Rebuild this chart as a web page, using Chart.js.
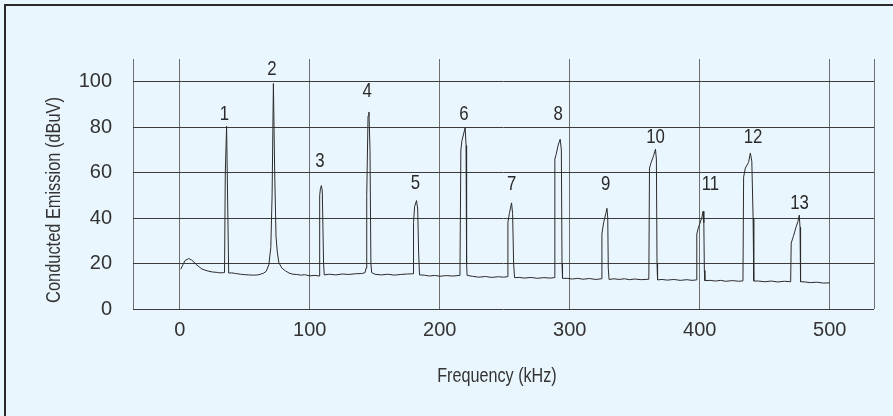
<!DOCTYPE html>
<html>
<head>
<meta charset="utf-8">
<script src="https://cdn.jsdelivr.net/npm/chart.js@4.4.1/dist/chart.umd.min.js"></script>
<style>
  html, body { margin: 0; padding: 0; background: #eaf6fd; }
  #wrap { position: relative; width: 893px; height: 416px; overflow: hidden; }
  #frame { position: absolute; left: 4px; top: 4px; right: -10px; bottom: -10px; border-left: 2px solid #2a2a2a; border-top: 2px solid #2a2a2a; }
  canvas { position: absolute; left: 0; top: 0; }
</style>
</head>
<body>
<div id="wrap">
  <div id="frame"></div>
  <canvas id="emissionChart" width="893" height="416"></canvas>
</div>
<script>
// spectrum trace (kHz, dBuV)
const traceFreq = [
  0.8, 2, 4, 6.8, 9, 10.8, 12.5, 14.6, 17, 21, 25, 28.8, 31, 33.4,
  34.4, 35.0, 36.0, 37.0, 37.6,
  40, 43, 46.7, 50, 53, 56.9, 60, 62.1, 64.5, 66.5, 68.5, 70, 71, 72, 73, 74, 75, 76.2, 78.5, 81.3, 84, 87,
  90, 93, 96, 100, 104, 107.2,
  107.6, 108.2, 108.9, 109.6, 110.6, 111.1,
  115, 120, 125, 130, 135, 140, 142.5,
  143.3, 143.8, 144.8, 145.5, 146.3, 147, 147.6,
  150, 155, 160, 165, 170, 175, 179.5,
  179.8, 180.6, 182.1, 183, 183.7, 184.4,
  188, 192, 196, 200, 205, 210, 215.5,
  216.2, 217, 218.3, 219.5, 220.2, 220.6, 221,
  225, 230, 235, 240, 245, 249, 252,
  252.4, 253.5, 255.2, 256, 256.8, 257.5,
  261, 265, 270, 275, 280, 285, 288,
  288.5, 289.5, 291, 292.6, 293.5, 294, 294.4,
  298, 302, 306, 310, 315, 320, 324.2,
  324.7, 326, 327.7, 328.6, 329.2, 329.6, 330.2,
  334, 338, 342, 346, 350, 355, 360.8,
  361.3, 362.3, 364.5, 365.9, 366.6, 367.1, 367.5,
  371, 375, 380, 385, 390, 394, 397.3,
  397.7, 399, 401.5, 402.5, 403.1, 403.5, 403.9,
  408, 412, 416, 420, 425, 430, 433.2,
  433.7, 435, 437.5, 438.9, 440, 441, 441.5,
  445, 450, 455, 460, 465, 469.9,
  470.3, 472, 474, 475.5, 476.5, 477.1, 477.5,
  481, 485, 490, 495, 500
];
const traceLevel = [
  17.5, 19, 21.3, 22.2, 21.6, 20.7, 19.6, 18.7, 17.6, 16.8, 16.3, 16.1, 15.9, 16.0,
  16, 60, 80.4, 40, 15.8,
  15.9, 15.6, 15.3, 15.1, 15.0, 14.9, 15.0, 15.3, 15.8, 16.6, 19.5, 27, 50, 99.2, 60, 32, 25, 20.4, 18, 16.8, 15.8, 15.3,
  15.2, 14.9, 15.1, 14.6, 14.8, 14.5,
  50, 53, 54.3, 52, 20, 15,
  15.3, 15.0, 15.4, 15.2, 15.5, 15.6, 16,
  18, 50, 85, 86.7, 70, 20, 16,
  15.3, 15.0, 15.3, 14.9, 15.2, 15.4, 15.5,
  38, 45, 47.7, 44, 25, 15,
  14.9, 14.5, 14.8, 14.4, 14.7, 14.5, 14.8,
  70, 74, 77, 79.8, 72, 20, 14.8,
  14.4, 14.0, 14.3, 13.9, 14.2, 14.0, 14.2,
  38, 42, 46.7, 42, 20, 13.8,
  13.9, 13.6, 13.9, 13.5, 13.8, 13.6, 13.8,
  66, 68, 72, 74.7, 70, 20, 13.5,
  13.5, 13.2, 13.5, 13.1, 13.4, 13.0, 13.3,
  33, 38, 42, 44.3, 40, 18, 13.0,
  13.3, 13.0, 13.3, 12.9, 13.2, 12.9, 13.1,
  62, 64, 67.5, 70.3, 66, 20, 12.8,
  13.0, 12.7, 13.0, 12.6, 12.9, 12.6, 12.8,
  33, 36, 40, 43, 38, 17, 12.5,
  12.6, 12.3, 12.6, 12.2, 12.5, 12.2, 12.4,
  58, 62, 64.5, 68.6, 65, 40, 12.3,
  12.3, 12.0, 12.3, 11.9, 12.2, 12.0,
  29, 32, 36, 38.5, 41.3, 36, 12.0,
  11.9, 11.6, 11.8, 11.4, 11.5
];

// harmonic numbers and where their labels sit
const peakNames = ['1', '2', '3', '4', '5', '6', '7', '8', '9', '10', '11', '12', '13'];
const peakLabelFreq = [34.4, 70.8, 107.7, 144.2, 181.3, 218.5, 255.2, 291.0, 327.5, 366.0, 408.2, 441.0, 476.7];
const peakLabelLevel = [85.8, 105.5, 65.2, 95.8, 55.4, 85.8, 54.7, 85.8, 54.7, 75.6, 54.7, 75.6, 46.4];

const xMin = -36, xMax = 534;
const xTicks = [0, 100, 200, 300, 400, 500];
const yMin = 0, yMax = 110, yStep = 10;
const yLabelStep = 20;

const xTitle = 'Frequency (kHz)';
const yTitle = 'Conducted Emission (dBuV)';

const FONT = '"Liberation Sans", Arial, sans-serif';
Chart.defaults.font.family = FONT;
Chart.defaults.color = '#333';

// the original uses a condensed face; squeeze the drawn text horizontally
function narrowText(ctx, text, x, y, squeeze) {
    ctx.save();
    ctx.translate(x, y);
    ctx.scale(squeeze, 1);
    ctx.fillText(text, 0, 0);
    ctx.restore();
}

const annotate = {
    id: 'annotate',
    afterDatasetsDraw(chart) {
        const { ctx, scales: { x, y } } = chart;
        ctx.save();
        ctx.fillStyle = '#2a2a2a';
        ctx.textAlign = 'center';
        ctx.textBaseline = 'middle';
        ctx.font = `21px ${FONT}`;
        peakNames.forEach((name, i) => {
            narrowText(ctx, name, x.getPixelForValue(peakLabelFreq[i]), y.getPixelForValue(peakLabelLevel[i]), 0.8);
        });
        ctx.fillStyle = '#333';
        narrowText(ctx, xTitle, 497, 376, 0.77);
        ctx.translate(54, 200);
        ctx.rotate(-Math.PI / 2);
        narrowText(ctx, yTitle, 0, 0, 0.78);
        ctx.restore();
    }
};

const ctx = document.getElementById('emissionChart').getContext('2d');
new Chart(ctx, {
    type: 'line',
    data: {
        datasets: [{
            data: traceFreq.map((f, i) => ({ x: f, y: traceLevel[i] })),
            borderColor: '#2b2b2b',
            borderWidth: 1,
            pointRadius: 0,
            tension: 0,
            fill: false
        }]
    },
    options: {
        responsive: false,
        animation: false,
        events: [],
        layout: { padding: { left: 42, top: 59, right: 19, bottom: 28 } },
        plugins: { legend: { display: false }, tooltip: { enabled: false } },
        scales: {
            x: {
                type: 'linear',
                min: xMin, max: xMax,
                afterBuildTicks: (scale) => {
                    scale.ticks = [xMin, ...xTicks, xMax].map(v => ({ value: v }));
                },
                afterFit: (scale) => { scale.height = 79; },
                ticks: {
                    autoSkip: false, maxRotation: 0, padding: 9,
                    font: { size: 20 }, color: '#333',
                    callback: (v) => xTicks.includes(v) ? String(v) : ''
                },
                grid: { color: '#6e6e6e', lineWidth: 1, drawTicks: false },
                border: { display: false }
            },
            y: {
                min: yMin, max: yMax,
                afterFit: (scale) => { scale.width = 91; },
                ticks: {
                    stepSize: yStep, padding: 21,
                    font: { size: 20 }, color: '#333',
                    callback: (v) => (v % yLabelStep === 0 && v < yMax) ? String(v) : ''
                },
                grid: { color: '#3c3c3c', lineWidth: 1, drawTicks: false },
                border: { display: false }
            }
        }
    },
    plugins: [annotate]
});
</script>
</body>
</html>
